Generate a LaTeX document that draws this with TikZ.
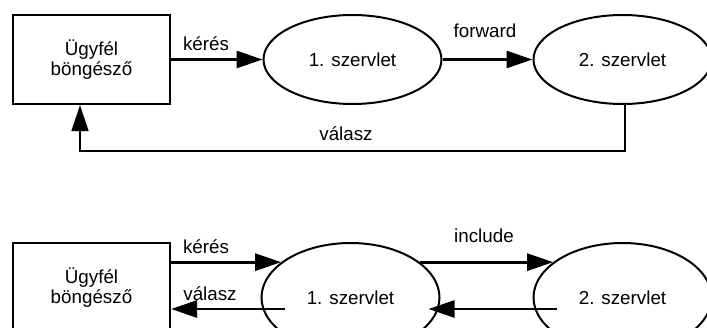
\documentclass[tikz,border=0pt]{standalone}
\usepackage{fontspec}
\setmainfont{Liberation Sans}
\usetikzlibrary{arrows.meta,shapes.geometric,calc}

\begin{document}
\begin{tikzpicture}[
        x=1pt,y=-1pt,
        client/.style={draw,line width=2.2pt,minimum width=157pt,minimum height=89pt,inner sep=0pt,align=center,font=\fontsize{18.8}{19.5}\selectfont},
        servlet/.style={draw,ellipse,line width=2pt,minimum width=178pt,inner sep=0pt,font=\fontsize{18.8}{18}\selectfont},
        msg/.style={line width=2.8pt,-{Triangle[length=26pt,width=17pt]}},
        reply/.style={line width=2pt,-{Triangle[length=26pt,width=17pt]}},
        lbl/.style={anchor=base,inner sep=0pt,font=\fontsize{18.8}{18}\selectfont}
    ]
    \clip (0,0) rectangle (707,327);

    % forward
    \node[client] (c1) at (91.5,59.5) {Ügyfél\\böngésző};
    \node[servlet,minimum height=89pt] (s1) at (352.5,59.5) {1. szervlet};
    \node[servlet,minimum height=89pt] (s2) at (622.5,59.5) {2. szervlet};
    \draw[msg] (c1.east) -- (s1.west);
    \draw[msg] (s1.east) -- (s2.west);
    \draw[reply] ([xshift=2.5pt]s2.south) -- ++(0,46) -| ([xshift=-11.5pt]c1.south);
    \node[lbl] (k1) at (206,50) {kérés};
    \node[lbl] (fw) at (485,37) {forward};
    \node[lbl] (v1) at (346,140) {válasz};

    % include
    \node[client] (c2) at (91.5,287.5) {Ügyfél\\böngésző};
    \node[servlet,minimum height=109pt] (b1) at (350.5,297.5) {1. szervlet};
    \node[servlet,minimum height=109pt] (b2) at (622.5,297.5) {2. szervlet};
    \coordinate (r1) at ($(b1.west)+(24,11.5)$);
    \coordinate (r2) at ($(b2.west)+(24,11.5)$);
    \coordinate (r3) at ($(b1.east)+(-12,11.5)$);
    \draw[msg] (c2.east |- b1.153) -- (b1.153);
    \draw[msg] (b1.27) -- (b2.153);
    \draw[msg] (r1) -- (r1 -| c2.east);
    \draw[msg] (r2) -- (r3);
    \node[lbl] (k2) at (206,253) {kérés};
    \node[lbl] (v2) at (210,300) {válasz};
    \node[lbl] (inc) at (484,242) {include};
\end{tikzpicture}
\end{document}
